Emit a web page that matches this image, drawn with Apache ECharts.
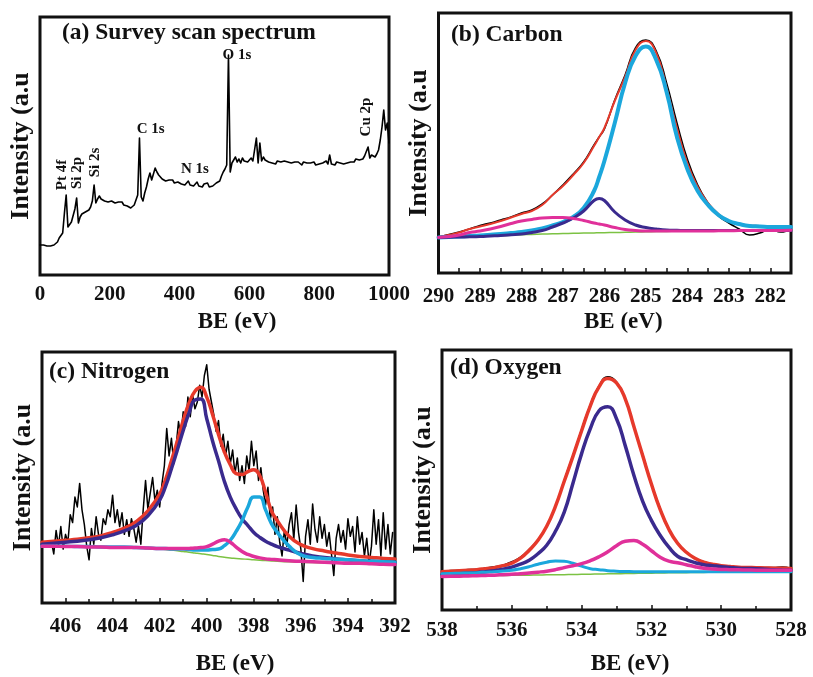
<!DOCTYPE html>
<html>
<head>
<meta charset="utf-8">
<title>XPS spectra</title>
<script src="https://cdn.jsdelivr.net/npm/echarts@6.0.0/dist/echarts.min.js"></script>
<style>
  html, body { margin: 0; padding: 0; background: #ffffff; }
  #chart { width: 813px; height: 677px; }
</style>
</head>
<body>
<div id="chart"></div>
<script>
// ---------- (a) survey scan: binding energy grid 0..1000 eV, 5 eV steps ----------
const surveyBE = Array.from({ length: 201 }, (_, i) => i * 5);
const surveyCounts = [
  30, 29, 30, 28, 29, 28, 29, 28, 30, 31,
  33, 37, 36, 42, 62, 80, 48, 50, 53, 55,
  66, 77, 52, 58, 61, 60, 63, 62, 65, 68,
  74, 90, 72, 76, 79, 76, 78, 74, 76, 73,
  75, 74, 76, 72, 74, 73, 71, 73, 70, 72,
  69, 70, 67, 66, 70, 72, 80, 137, 78, 74,
  82, 88, 96, 102, 95, 97, 107, 103, 100, 98,
  96, 97, 94, 96, 95, 93, 95, 92, 94, 93,
  95, 91, 93, 90, 92, 94, 90, 92, 89, 91,
  93, 89, 90, 88, 91, 89, 92, 88, 90, 89,
  91, 92, 91, 94, 99, 103, 106, 110, 220, 103,
  112, 115, 118, 113, 116, 112, 117, 114, 116, 113,
  115, 117, 114, 113, 137, 112, 132, 114, 118, 115,
  116, 113, 114, 112, 113, 111, 114, 112, 113, 111,
  114, 112, 113, 115, 112, 114, 113, 111, 113, 112,
  110, 113, 111, 112, 110, 112, 111, 113, 110, 112,
  111, 109, 112, 110, 114, 111, 120, 111, 112, 110,
  113, 111, 112, 114, 111, 113, 112, 114, 113, 115,
  113, 116, 114, 115, 117, 116, 119, 118, 128, 117,
  120, 119, 118, 121, 125, 135, 148, 165, 145, 152,
  132
];
const surveyTagNames = ['Pt 4f', 'Si 2p', 'Si 2s', 'C 1s', 'N 1s', 'O 1s', 'Cu 2p'];
const surveyTagBE    = [64.5, 107.5, 157.6, 317, 444, 564, 934];
const surveyTagH     = [100, 102, 112.5, 146, 106, 220, 158];
const surveyTagRot   = [90, 90, 90, 0, 0, 0, 90];

// ---------- (b) C 1s ----------
const carbonBE = [290, 289.75, 289.5, 289.25, 289, 288.75, 288.5, 288.25, 288, 287.75,
  287.5, 287.25, 287, 286.75, 286.5, 286.25, 286.125, 286, 285.75, 285.5, 285.25,
  285, 284.75, 284.5, 284.25, 284, 283.75, 283.5, 283.25, 283, 282.75,
  282.5, 282.25, 282, 281.75, 281.5];
const carbonRaw = [36, 38.5, 41, 44, 47.5, 50, 53, 56, 60, 63,
  69, 78, 88, 99, 111, 128, 136, 144, 173, 198, 225,
  233, 222, 190, 150, 114, 88, 70, 57, 50, 44,
  38, 40, 44, 41, 45];
const carbonEnvelope = [36, 38, 40.5, 44, 46.5, 49, 52, 55.5, 59, 62,
  68, 78, 87, 98, 110, 127, 136, 145, 172, 196, 223,
  232, 220, 185, 145, 110, 86, 70, 59, 52, 49,
  47.5, 47, 46.5, 46.5, 46.5];
const carbonCC = [35.5, 36, 36.5, 37, 37.5, 38.2, 39, 40, 41, 42.5,
  44.5, 47.5, 51, 56, 65, 82, 96, 112, 150, 190, 217,
  226.5, 213, 181, 136, 104, 82, 68, 58, 52, 49,
  47, 46.5, 46, 46, 46];
const carbonCO = [35.5, 35.8, 36, 36.2, 36.5, 37, 37.5, 38.2, 39, 40.5,
  42.5, 46, 50, 55, 62, 72.5, 74.5, 72.5, 61, 53, 48,
  45.5, 44, 43, 42.7, 42.5, 42.5, 42.5, 42.5, 42.5, 42.5,
  42.5, 42.5, 42.5, 42.5, 42.5];
const carbonOCO = [35.5, 36.5, 38, 40.5, 42, 44, 46.5, 49.5, 52, 53.5,
  55, 55.5, 55.5, 54.5, 52.5, 50, 49, 48, 45.5, 43.5, 42.5,
  42, 42, 42, 42, 42, 42, 42, 42.2, 42.3, 42.4,
  42.5, 42.5, 42.5, 42.6, 42.7];
const carbonBg = [35.5, 35.8, 36, 36.3, 36.6, 37, 37.4, 37.8, 38.2, 38.6,
  38.9, 39.2, 39.5, 39.7, 39.9, 40.1, 40.2, 40.3, 40.5, 40.7, 41,
  41.2, 41.4, 41.6, 41.8, 42, 42.1, 42.2, 42.3, 42.4, 42.5,
  42.5, 42.5, 42.5, 42.5, 42.5];

// ---------- (c) N 1s ----------
const nitrogenRawBE = Array.from({ length: 146 }, (_, i) => +(406.6 - i * 0.1).toFixed(1));
const nitrogenRaw = [
  62, 50, 74, 58, 78, 55, 70, 62, 90, 82,
  108, 98, 122, 95, 80, 58, 44, 76, 60, 88,
  70, 64, 86, 80, 95, 88, 110, 82, 95, 78,
  92, 70, 85, 68, 86, 76, 62, 78, 60, 95,
  125, 96, 112, 128, 104, 115, 98, 122, 140, 178,
  150, 168, 142, 160, 185, 170, 195, 180, 210, 190,
  212, 198, 205, 222, 210, 232, 243, 218, 205, 192,
  175, 186, 160, 172, 150, 165, 142, 156, 132, 148,
  125, 140, 122, 150, 135, 165, 140, 155, 125, 138,
  115, 100, 118, 85, 98, 70, 88, 62, 48, 75,
  58, 80, 92, 65, 100, 72, 55, 22, 68, 85,
  60, 101, 75, 62, 88, 66, 80, 58, 72, 50,
  28, 66, 80, 62, 74, 55, 86, 68, 78, 52,
  88, 60, 72, 48, 66, 40, 58, 95, 60, 85,
  48, 92, 55, 80, 50, 72
];
const nitrogenBE = [407, 406.5, 406, 405.5, 405, 404.5, 404, 403.5, 403, 402.5,
  402, 401.75, 401.5, 401.25, 401, 400.75, 400.5, 400.25, 400, 399.75,
  399.5, 399.25, 399, 398.75, 398.5, 398.25, 398, 397.75, 397.5, 397.25,
  397, 396.5, 396, 395.5, 395, 394.5, 394, 393.5, 393, 392.5, 392];
const nitrogenEnvelope = [62, 63, 64, 65, 66.5, 68.5, 72, 76.5, 83, 94,
  111, 126, 145, 165, 186, 204, 216, 220, 210, 192,
  172, 154, 141, 132, 131, 134, 136, 130, 113, 94,
  84, 68, 59.5, 55.5, 53, 51, 49, 47.5, 46.5, 45.5, 45];
const nitrogenGraphitic = [60, 61, 62, 63, 64.5, 66.5, 69.5, 73.5, 79, 89,
  105, 119, 137, 156, 176, 194, 207, 208, 188, 165,
  145, 124, 108, 96, 86, 79, 72, 67, 63, 60,
  57.5, 54, 50.5, 48, 46.5, 45, 44, 43, 42.5, 42, 41.5];
const nitrogenPyridinic = [58, 58, 58, 57.5, 57.5, 57, 57, 57, 56.5, 56,
  55.5, 55.5, 55, 55, 55, 54.5, 54, 54, 54, 54.5,
  55, 58.5, 64, 73, 84, 98, 108, 108, 95, 81,
  72, 58, 49, 46.5, 45.5, 44.5, 44, 43, 42.5, 42, 41.5];
const nitrogenPyrrolic = [58, 58, 57.5, 57.5, 57, 57, 56.5, 56.5, 56.5, 56,
  55.5, 55.5, 55.5, 55.5, 55.5, 55.7, 56, 56.5, 57.5, 60,
  63, 64.5, 62, 57, 52.5, 49.5, 47.5, 46, 45, 44.5,
  44, 43, 42.5, 42, 41.5, 41, 40.5, 40.5, 40, 39.5, 39.3];
const nitrogenBg = [58, 57.8, 57.5, 57.2, 57, 56.7, 56.5, 56.3, 56, 55.5,
  55, 54.5, 54, 53.3, 52.5, 51.8, 51, 50.2, 49.5, 48.5,
  47.5, 46.7, 46, 45.5, 45, 44.5, 44, 43.6, 43.3, 42.9,
  42.5, 42, 41.5, 41.2, 41, 40.7, 40.5, 40.2, 40, 39.6, 39.3];

// ---------- (d) O 1s ----------
const oxygenBE = [538, 537.75, 537.5, 537.25, 537, 536.75, 536.5, 536.25, 536, 535.75,
  535.5, 535.25, 535, 534.75, 534.5, 534.25, 534, 533.75, 533.5, 533.25,
  533, 532.75, 532.5, 532.25, 532, 531.75, 531.5, 531.25, 531, 530.75,
  530.5, 530.25, 530, 529.75, 529.5, 529.25, 529, 528.75, 528.5, 528.25, 528];
const oxygenRaw = [38.5, 39.5, 39.8, 40.5, 40.8, 42, 43.5, 45, 48.5, 53,
  61, 70.5, 84, 104, 130, 155, 181, 206, 225, 234,
  229, 212, 184, 156, 127, 102, 81, 67.5, 58, 52,
  48.5, 46, 44.5, 43.5, 43, 42.8, 42.5, 42.5, 42.5, 43, 41.7];
const oxygenEnvelope = [38.5, 39, 39.5, 40, 40.5, 41.5, 42.5, 44.5, 47, 52,
  60, 70, 84, 104, 129, 154, 180, 205, 224, 232.5,
  228, 212, 184, 155, 126.5, 101, 81, 67, 58, 52,
  48, 46, 44.5, 43.7, 43, 42.7, 42.5, 42.2, 42, 41.8, 41.7];
const oxygenCO = [36, 36.2, 36.5, 37, 37.5, 38.5, 39.5, 41, 43, 46,
  50, 56.5, 65, 79, 98, 127, 157, 182, 200, 204,
  192, 165, 135, 109, 90, 75, 63, 54, 50.5, 47.5,
  45.5, 44.5, 43.5, 42.7, 42, 41.7, 41.5, 41, 40.5, 40.2, 40];
const oxygenOH = [33.7, 33.8, 34, 34.2, 34.5, 34.7, 35, 35.5, 36, 36.5,
  37.2, 38, 39, 40.5, 42.5, 44.5, 46.5, 49.5, 53.5, 58.5,
  64.5, 69, 69.7, 66, 59.5, 53, 49, 47.5, 45.5, 43.5,
  42, 41.2, 40.7, 40.5, 40.3, 40.2, 40, 40, 40, 40, 40];
const oxygenH2O = [36.5, 36.7, 37, 37.2, 37.5, 38, 38.5, 39.2, 40, 41.5,
  43.5, 46, 48, 49.3, 49, 47, 44, 41.5, 40.5, 39.5,
  39, 38.7, 38.5, 38.4, 38.3, 38.3, 38.3, 38.3, 38.3, 38.3,
  38.3, 38.3, 38.3, 38.3, 38.3, 38.3, 38.3, 38.3, 38.3, 38.3, 38.3];
const oxygenBg = [34, 34.1, 34.2, 34.3, 34.4, 34.5, 34.6, 34.7, 34.8, 34.9,
  35, 35.1, 35.3, 35.4, 35.5, 35.7, 35.8, 36, 36.1, 36.3,
  36.4, 36.6, 36.7, 36.9, 37, 37.1, 37.3, 37.4, 37.5, 37.6,
  37.7, 37.9, 38, 38.1, 38.2, 38.2, 38.3, 38.4, 38.4, 38.5, 38.5];

// ---------- styling ----------
const SERIF = 'Liberation Serif';
const INK = '#111111';
const RED = '#e6392b';
const CYAN = '#1ba7dc';
const PURPLE = '#3a2a8e';
const PINK = '#e0309a';
const GREEN = '#7cc243';

const zip = (xs, ys) => xs.map((x, i) => [x, ys[i]]);

function curve(gi, xs, ys, color, width, smooth) {
  return {
    type: 'line', xAxisIndex: gi, yAxisIndex: gi,
    data: zip(xs, ys), symbol: 'none', showSymbol: false,
    smooth: smooth, silent: true,
    lineStyle: { color: color, width: width, cap: 'round', join: 'round' }
  };
}

const panels = [
  { left: 40,  top: 17,  width: 349, height: 258, yMax: 258 },
  { left: 438.5, top: 13, width: 352.5, height: 260, yMax: 260 },
  { left: 42,  top: 352, width: 353, height: 256, yMax: 256 },
  { left: 442, top: 350, width: 349, height: 261, yMax: 261 }
];

const labelFont = { fontFamily: SERIF, fontWeight: 'bold', fontSize: 21, color: INK };

const xAxes = [
  { min: 0, max: 1000, interval: 200, inverse: false, ticks: false, minor: false,
    margin: 9, nameGap: 36, namePad: 45, fmt: v => String(v) },
  { min: 281.5, max: 290, interval: 0.5, inverse: true, ticks: true, minor: false,
    margin: 13, nameGap: 38, namePad: 17, fmt: v => (Number.isInteger(v) ? String(v) : '') },
  { min: 392, max: 407, interval: 2, inverse: true, ticks: true, minor: true,
    margin: 13, nameGap: 50, namePad: 33, fmt: v => (v % 2 === 0 ? String(v) : '') },
  { min: 528, max: 538, interval: 2, inverse: true, ticks: true, minor: true,
    margin: 10, nameGap: 43, namePad: 27, fmt: v => String(v) }
].map((a, i) => ({
  type: 'value', gridIndex: i, min: a.min, max: a.max, interval: a.interval,
  inverse: a.inverse,
  name: 'BE (eV)', nameLocation: 'middle', nameGap: a.nameGap,
  nameTextStyle: { fontFamily: SERIF, fontWeight: 'bold', fontSize: 23, color: INK,
    padding: [0, 0, 0, a.namePad] },
  axisLine: { show: false },
  axisTick: { show: a.ticks, inside: true, length: 5, lineStyle: { color: INK, width: 1.5 } },
  minorTick: { show: a.minor, splitNumber: 2, length: 4, lineStyle: { color: INK, width: 1.5 } },
  axisLabel: Object.assign({ margin: a.margin, formatter: a.fmt, hideOverlap: false }, labelFont),
  splitLine: { show: false }
}));

const yAxes = panels.map((p, i) => ({
  type: 'value', gridIndex: i, min: 0, max: p.yMax,
  name: 'Intensity (a.u', nameLocation: 'middle', nameGap: 6,
  nameTextStyle: { fontFamily: SERIF, fontWeight: 'bold', fontSize: 26, color: INK },
  axisLine: { show: false }, axisTick: { show: false }, axisLabel: { show: false },
  splitLine: { show: false }
}));

const titleStyle = { fontFamily: SERIF, fontWeight: 'bold', fontSize: 23.5, color: INK };
const titles = [
  { text: '(a) Survey scan spectrum', left: 62, top: 21 },
  { text: '(b) Carbon', left: 451, top: 23 },
  { text: '(c) Nitrogen', left: 49, top: 360 },
  { text: '(d) Oxygen', left: 450, top: 356 }
].map(t => Object.assign({ padding: 0, textStyle: titleStyle }, t));

const series = [
  // (a)
  curve(0, surveyBE, surveyCounts, '#000000', 1.6, false),
  // (b)
  curve(1, carbonBE, carbonBg, GREEN, 1.5, true),
  curve(1, carbonBE, carbonRaw, '#000000', 1.6, true),
  curve(1, carbonBE, carbonEnvelope, RED, 2, true),
  curve(1, carbonBE, carbonCC, CYAN, 4, true),
  curve(1, carbonBE, carbonCO, PURPLE, 3, true),
  curve(1, carbonBE, carbonOCO, PINK, 3, true),
  // (c)
  curve(2, nitrogenBE, nitrogenBg, GREEN, 1.5, true),
  curve(2, nitrogenRawBE, nitrogenRaw, '#000000', 1.5, false),
  curve(2, nitrogenBE, nitrogenEnvelope, RED, 3.5, true),
  curve(2, nitrogenBE, nitrogenGraphitic, PURPLE, 3.5, true),
  curve(2, nitrogenBE, nitrogenPyridinic, CYAN, 3.5, true),
  curve(2, nitrogenBE, nitrogenPyrrolic, PINK, 3.5, true),
  // (d)
  curve(3, oxygenBE, oxygenBg, GREEN, 1.5, true),
  curve(3, oxygenBE, oxygenRaw, '#000000', 1.6, true),
  curve(3, oxygenBE, oxygenEnvelope, RED, 3.5, true),
  curve(3, oxygenBE, oxygenCO, PURPLE, 3.5, true),
  curve(3, oxygenBE, oxygenH2O, CYAN, 3, true),
  curve(3, oxygenBE, oxygenOH, PINK, 3.5, true)
];

const chart = echarts.init(document.getElementById('chart'), null, { renderer: 'canvas' });
chart.setOption({
  backgroundColor: '#ffffff',
  animation: false,
  title: titles,
  grid: panels.map(p => ({
    left: p.left, top: p.top, width: p.width, height: p.height,
    show: true, borderColor: INK, borderWidth: 3, backgroundColor: 'transparent',
    containLabel: false
  })),
  xAxis: xAxes,
  yAxis: yAxes,
  series: series
});

// Peak assignments on the survey scan, placed through the survey grid's scales
chart.setOption({
  graphic: surveyTagNames.map((name, i) => {
    const pt = chart.convertToPixel({ gridIndex: 0 }, [surveyTagBE[i], surveyTagH[i]]);
    return {
      type: 'text', x: pt[0], y: pt[1], z: 20, silent: true,
      rotation: surveyTagRot[i] * Math.PI / 180,
      style: {
        text: name, fill: INK, fontFamily: SERIF, fontWeight: 'bold', fontSize: 15,
        align: 'center', verticalAlign: 'middle'
      }
    };
  })
});
</script>
</body>
</html>
